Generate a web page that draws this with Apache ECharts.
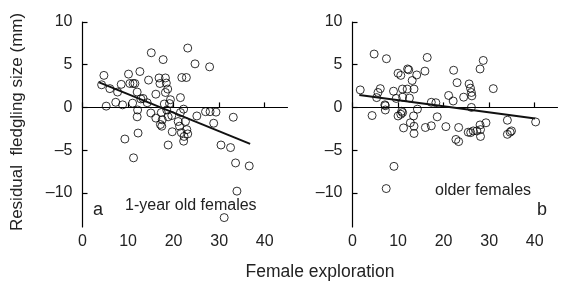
<!DOCTYPE html>
<html>
<head>
<meta charset="utf-8">
<script src="https://cdn.jsdelivr.net/npm/echarts@6/dist/echarts.min.js"></script>
<style>
  html, body { margin: 0; padding: 0; background: #fff; }
  #chart { width: 562px; height: 283px; }
</style>
</head>
<body>
<div id="chart"></div>
<script>
// panel a: 1-year old females  [exploration, residual size]
var youngPoints = [
	[4.7, 3.75], [4.2, 2.65], [5.2, 0.15], [6.0, 2.2], [7.3, 0.6], [7.7, 1.8], [8.5, 2.7], [8.8, 0.3],
	[10.1, 3.9], [10.4, 2.8], [11.1, 2.8], [11.5, 2.8], [11.0, 0.5], [12.0, 1.8], [12.6, 4.2], [12.1, -0.3],
	[12.0, -1.1], [12.2, -3.0], [9.3, -3.7], [11.2, -5.9], [12.8, 1.0], [13.3, 1.05], [14.2, 0.55], [14.5, 3.2],
	[15.1, 6.4], [15.0, -0.65], [16.1, -1.25], [16.1, 1.55], [16.8, 3.45], [17.0, 2.8], [17.3, -0.6], [17.5, -1.45],
	[17.4, -2.2], [17.1, -2.0], [17.7, 5.6], [18.2, 3.45], [18.4, 2.85], [18.7, 2.15], [18.2, 1.75], [17.95, 0.4],
	[18.5, -0.3], [18.8, -1.1], [19.3, 0.9], [19.1, 0.45], [19.6, -0.95], [19.7, -2.85], [18.8, -4.4], [21.5, 1.15],
	[21.5, -0.6], [21.0, -1.65], [21.3, -2.2], [21.7, -2.95], [22.2, -0.2], [22.2, -3.95], [22.3, -3.4], [22.6, -1.65],
	[22.9, -2.6], [23.1, -3.1], [21.8, 3.5], [22.8, 3.5], [23.1, 6.95], [24.7, 5.1], [25.1, -1.0], [27.0, -0.5],
	[28.0, -0.5], [29.3, -0.55], [28.8, -1.85], [27.9, 4.75], [30.4, -4.4], [32.5, -4.7], [33.1, -1.15], [33.6, -6.5],
	[36.6, -6.85], [33.9, -9.8], [31.1, -12.9]
];
var youngTrend = [[3.65, 2.93], [36.8, -4.26]];

// panel b: older females
var olderPoints = [
	[1.7, 2.05], [4.3, -0.95], [4.75, 6.25], [5.6, 1.75], [6.1, 2.2], [5.3, 1.15], [7.1, 0.3], [7.2, -0.3],
	[7.45, 5.7], [7.2, 0.2], [9.0, 1.9], [9.1, -6.9], [7.4, -9.5], [9.6, 1.05], [10.0, 4.0], [10.6, 3.75],
	[10.96, 2.15], [11.0, 1.2], [10.0, -1.0], [10.8, -0.45], [11.0, -0.6], [10.6, -0.8], [11.2, -2.4], [12.0, 2.15],
	[12.1, 4.5], [12.35, 4.4], [12.5, 1.1], [12.7, -1.8], [13.1, 3.15], [13.5, 2.15], [13.4, -1.0], [13.5, -2.2],
	[13.5, -3.05], [14.1, 3.8], [14.25, -0.2], [15.9, 4.25], [16.4, 5.85], [16.0, -2.35], [17.3, -2.15], [17.3, 0.6],
	[18.3, 0.55], [18.6, -1.1], [20.5, -2.25], [21.1, 1.4], [22.1, 0.75], [22.2, 4.35], [22.95, 2.9], [22.7, -3.75],
	[23.3, -4.0], [23.3, -2.35], [24.4, 1.2], [25.4, -2.9], [25.6, 2.75], [25.9, 2.25], [26.1, 1.75], [26.2, 1.35],
	[26.1, 0.0], [25.95, -2.95], [26.5, -2.75], [27.3, -2.75], [28.0, 4.5], [28.7, 5.5], [28.0, -2.05], [28.1, -2.6],
	[28.1, -3.4], [29.3, -1.8], [30.9, 2.2], [34.0, -1.5], [34.0, -3.15], [34.9, -2.75], [34.6, -2.9], [40.2, -1.7]
];
var olderTrend = [[1.5, 1.45], [40.1, -1.3]];

var xTicks = [0, 10, 20, 30, 40];
var yTicks = [-10, -5, 0, 5, 10];

var fontName = 'Liberation Sans';

var makeXAxis = function(idx) {
	return {
		type : 'value',
		gridIndex : idx,
		min : 0,
		max : 45,
		splitLine : { show : false },
		axisLine : { lineStyle : { color : '#000', width : 1.2 } },
		axisTick : { inside : true, length : 5, customValues : xTicks, lineStyle : { color : '#000', width : 1.2 } },
		axisLabel : { customValues : xTicks, color : '#222', fontSize : 16, fontFamily : fontName, margin : 7 }
	};
};

var makeYAxis = function(idx) {
	return {
		type : 'value',
		gridIndex : idx,
		min : -14,
		max : 10,
		splitLine : { show : false },
		axisLine : { lineStyle : { color : '#000', width : 1.2 } },
		axisTick : { inside : true, length : 5, customValues : yTicks, lineStyle : { color : '#000', width : 1.2 } },
		axisLabel : {
			customValues : yTicks,
			color : '#222',
			fontSize : 16,
			fontFamily : fontName,
			margin : 10,
			formatter : function(v) {
				return String(v).replace('-', '\u2013');
			}
		}
	};
};

var circleStyle = { color : 'rgba(0,0,0,0)', borderColor : '#000', borderWidth : 1 };

var option = {
	backgroundColor : '#fff',
	animation : false,
	grid : [
		{ left : 82.5, top : 22, width : 205, height : 205 },
		{ left : 352.5, top : 22, width : 205, height : 205 }
	],
	xAxis : [ makeXAxis(0), makeXAxis(1) ],
	yAxis : [ makeYAxis(0), makeYAxis(1) ],
	series : [ {
		type : 'scatter',
		xAxisIndex : 0,
		yAxisIndex : 0,
		symbolSize : 8,
		itemStyle : circleStyle,
		data : youngPoints
	}, {
		type : 'line',
		xAxisIndex : 0,
		yAxisIndex : 0,
		showSymbol : false,
		lineStyle : { color : '#111', width : 2 },
		data : youngTrend
	}, {
		type : 'scatter',
		xAxisIndex : 1,
		yAxisIndex : 1,
		symbolSize : 8,
		itemStyle : circleStyle,
		data : olderPoints
	}, {
		type : 'line',
		xAxisIndex : 1,
		yAxisIndex : 1,
		showSymbol : false,
		lineStyle : { color : '#111', width : 2 },
		data : olderTrend
	} ],
	graphic : [ {
		type : 'text',
		x : 17,
		y : 122,
		rotation : Math.PI / 2,
		style : { text : 'Residual  fledgling size (mm)', fill : '#222', font : '17px "Liberation Sans"', align : 'center', verticalAlign : 'middle' }
	}, {
		type : 'text',
		x : 320,
		y : 272,
		style : { text : 'Female exploration', fill : '#222', font : '17.5px "Liberation Sans"', align : 'center', verticalAlign : 'middle' }
	}, {
		type : 'text',
		x : 93,
		y : 210,
		style : { text : 'a', fill : '#222', font : '18px "Liberation Sans"', align : 'left', verticalAlign : 'middle' }
	}, {
		type : 'text',
		x : 125,
		y : 206,
		style : { text : '1-year old females', fill : '#222', font : '16px "Liberation Sans"', align : 'left', verticalAlign : 'middle' }
	}, {
		type : 'text',
		x : 435,
		y : 191,
		style : { text : 'older females', fill : '#222', font : '16px "Liberation Sans"', align : 'left', verticalAlign : 'middle' }
	}, {
		type : 'text',
		x : 537,
		y : 210,
		style : { text : 'b', fill : '#222', font : '18px "Liberation Sans"', align : 'left', verticalAlign : 'middle' }
	} ]
};

var chart = echarts.init(document.getElementById('chart'));
chart.setOption(option);
</script>
</body>
</html>
